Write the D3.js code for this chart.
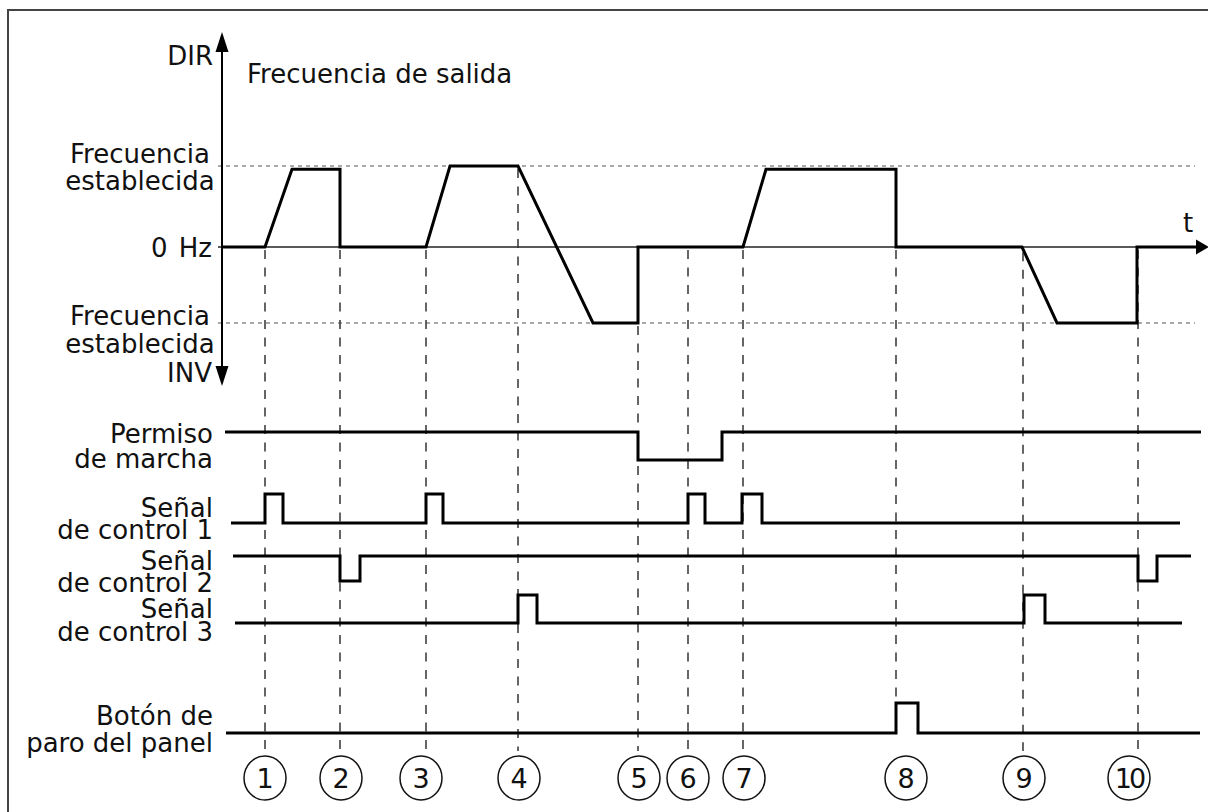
<!DOCTYPE html>
<html>
<head>
<meta charset="utf-8">
<script src="https://cdn.jsdelivr.net/npm/d3@7"></script>
<style>
  html, body { margin: 0; padding: 0; background: #fff; }
  svg { display: block; }
  text { font-family: "DejaVu Sans", Verdana, sans-serif; fill: #111; }
</style>
</head>
<body>
<svg id="chart" width="1208" height="812"></svg>
<script>
// ---------------- DATA ----------------
// time axis in arbitrary units (0..195)
const eventLabels = ["1", "2", "3", "4", "5", "6", "7", "8", "9", "10"];
const eventTimes = [8.6, 23.6, 40.8, 59.2, 83.2, 93.2, 104.2, 134.8, 160.2, 183.2];
const markerTimes = [8.6, 23.8, 39.8, 59.4, 83.4, 93.2, 104.4, 136.8, 160.4, 181.4];

// output frequency: [time, relative frequency] (+1 = set freq DIR, -1 = set freq INV)
const freqTimes  = [0, 8.6, 14, 23.6, 23.6, 40.8, 45.6, 59.2, 74.2, 83.2, 83.2, 104.2, 108.8, 134.8, 134.8, 160, 167, 183, 183, 195];
const freqValues = [0, 0, 0.96, 0.96, 0, 0, 1, 1, -1, -1, 0, 0, 0.96, 0.96, 0, 0, -1, -1, 0, 0];

// digital signals: label lines, resting level, span, pulse intervals (level toggles inside)
const signalNames = [["Permiso", "de marcha"], ["Señal", "de control 1"], ["Señal", "de control 2"], ["Señal", "de control 3"], ["Botón de", "paro del panel"]];
const signalRest  = [1, 0, 1, 0, 0];
const signalSpans = [[0.6, 195.8], [1.8, 191.6], [2.2, 193.8], [2.6, 192], [0.8, 195.6]];
const signalPulses = [
  [[83.2, 100]],
  [[8.6, 12.2], [40.8, 44.2], [93.2, 96.6], [104, 108]],
  [[23.6, 27.6], [183.2, 187]],
  [[59.2, 63], [160.4, 164.6]],
  [[134.8, 139.2]]
];

const axisLabels = { dir: "DIR", inv: "INV", zero: "0 Hz", setFreq: ["Frecuencia", "establecida"], title: "Frecuencia de salida", time: "t" };

// ---------------- LAYOUT ----------------
const svg = d3.select("#chart");
const x = d3.scaleLinear().domain([0, 195]).range([222, 1197]);
const yF = d3.scaleLinear().domain([-1, 0, 1]).range([323, 247, 166]);

// signal rows: y for level 0 / level 1, text baselines
const rows = [
  { y0: 460, y1: 432, tb: [443, 468] },
  { y0: 523, y1: 494, tb: [517, 539] },
  { y0: 581, y1: 556, tb: [570, 592] },
  { y0: 623, y1: 595, tb: [618, 641] },
  { y0: 733, y1: 703, tb: [725, 752] }
];

// frame
svg.append("rect").attr("x", 8).attr("y", 10).attr("width", 1215).attr("height", 820)
  .attr("fill", "none").attr("stroke", "#444").attr("stroke-width", 2);

// dotted set-frequency lines
[1, -1].forEach(v => {
  svg.append("line").attr("x1", 218).attr("x2", 1195).attr("y1", yF(v)).attr("y2", yF(v))
    .attr("stroke", "#555").attr("stroke-width", 1.2).attr("stroke-dasharray", "4,4");
});

// 0 Hz time axis with arrow
svg.append("line").attr("x1", 218).attr("x2", 1198).attr("y1", yF(0)).attr("y2", yF(0))
  .attr("stroke", "#222").attr("stroke-width", 1.3);
svg.append("path").attr("d", `M1196,${yF(0) - 7.5} L1209,${yF(0)} L1196,${yF(0) + 7.5} Z`).attr("fill", "#000");

// vertical frequency axis with two arrows
svg.append("line").attr("x1", 222).attr("x2", 222).attr("y1", 45).attr("y2", 372)
  .attr("stroke", "#000").attr("stroke-width", 2);
svg.append("path").attr("d", "M222,32 L215.5,52 L228.5,52 Z").attr("fill", "#000");
svg.append("path").attr("d", "M222,386 L215.5,366 L228.5,366 Z").attr("fill", "#000");

// frequency waveform
const freqPts = freqTimes.map((t, i) => [t, freqValues[i]]);
const freqLine = d3.line().x(d => x(d[0])).y(d => yF(d[1]));

// signal step points
const rowPts = signalSpans.map((span, i) => {
  const rest = signalRest[i];
  const pts = [[span[0], rest]];
  signalPulses[i].forEach(p => {
    pts.push([p[0], rest], [p[0], 1 - rest], [p[1], 1 - rest], [p[1], rest]);
  });
  pts.push([span[1], rest]);
  return pts;
});

// dashed event guides
eventTimes.forEach((t, i) => {
  let ys = freqPts.filter(p => Math.abs(p[0] - t) < 0.05).map(p => yF(p[1]));
  if (ys.length === 0) {
    const j = freqPts.findIndex(p => p[0] > t);
    const a = freqPts[j - 1], b = freqPts[j];
    ys = [yF(a[1] + (b[1] - a[1]) * (t - a[0]) / (b[0] - a[0]))];
  }
  const yStart = d3.max(ys) + 3;
  const btn = signalPulses[4].find(p => Math.abs(p[0] - t) < 0.05);
  const yEnd = btn ? rows[4].y1 - 2 : 751;
  svg.append("line").attr("x1", x(t)).attr("x2", x(t)).attr("y1", yStart).attr("y2", yEnd)
    .attr("stroke", "#333").attr("stroke-width", 1.5).attr("stroke-dasharray", "9,8.5");
});

svg.append("path").datum(freqPts).attr("d", freqLine)
  .attr("fill", "none").attr("stroke", "#000").attr("stroke-width", 3).attr("stroke-linejoin", "miter");

const fs = 26;
rowPts.forEach((pts, i) => {
  const yr = d3.scaleLinear().domain([0, 1]).range([rows[i].y0, rows[i].y1]);
  svg.append("path").datum(pts)
    .attr("d", d3.line().x(d => x(d[0])).y(d => yr(d[1])))
    .attr("fill", "none").attr("stroke", "#000").attr("stroke-width", 3);
  signalNames[i].forEach((s, k) => {
    svg.append("text").attr("x", 213).attr("y", rows[i].tb[k]).attr("text-anchor", "end")
      .attr("font-size", fs).text(s);
  });
});

// frequency labels
svg.append("text").attr("x", 213).attr("y", 65).attr("text-anchor", "end").attr("font-size", fs).text(axisLabels.dir);
svg.append("text").attr("x", 247).attr("y", 83).attr("font-size", fs).text(axisLabels.title);
svg.append("text").attr("x", 212).attr("y", 257).attr("text-anchor", "end").attr("font-size", fs)
  .attr("word-spacing", 3).text(axisLabels.zero);
[[163, 190], [325, 353]].forEach(bl => {
  axisLabels.setFreq.forEach((s, k) => {
    svg.append("text").attr("x", 140).attr("y", bl[k]).attr("text-anchor", "middle").attr("font-size", fs).text(s);
  });
});
svg.append("text").attr("x", 212).attr("y", 382).attr("text-anchor", "end").attr("font-size", fs).text(axisLabels.inv);
svg.append("text").attr("x", 1183).attr("y", 232).attr("font-size", fs).text(axisLabels.time);

// numbered markers
const mk = svg.append("g").selectAll("g").data(markerTimes).join("g")
  .attr("transform", d => `translate(${x(d)},778)`);
mk.append("ellipse").attr("rx", 21).attr("ry", 22)
  .attr("fill", "#fff").attr("stroke", "#111").attr("stroke-width", 1.5);
mk.append("text").attr("y", 10).attr("text-anchor", "middle").attr("font-size", 27)
  .attr("letter-spacing", (d, i) => eventLabels[i].length > 1 ? -3 : 0)
  .text((d, i) => eventLabels[i]);
</script>
</body>
</html>
